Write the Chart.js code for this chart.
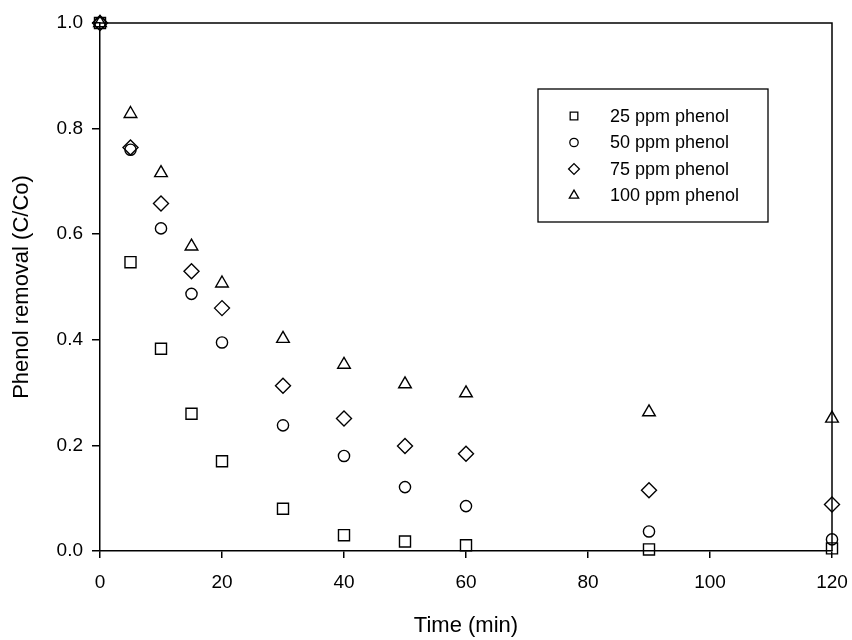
<!DOCTYPE html>
<html>
<head>
<meta charset="utf-8">
<title>Phenol removal</title>
<script src="https://cdn.jsdelivr.net/npm/chart.js@4/dist/chart.umd.min.js"></script>
<style>
    html, body { margin: 0; padding: 0; background: #fff; }
    #wrap { width: 852px; height: 640px; }
</style>
</head>
<body>
<div id="wrap"><canvas id="phenolChart" width="852" height="640"></canvas></div>
<script>
// Sampling times (min)
const times = [0, 5, 10, 15, 20, 30, 40, 50, 60, 90, 120];

// C/Co for each initial phenol concentration
const ppm25  = [1.0, 0.547, 0.383, 0.260, 0.170, 0.080, 0.030, 0.018, 0.011, 0.003, 0.005];
const ppm50  = [1.0, 0.760, 0.611, 0.487, 0.395, 0.238, 0.180, 0.121, 0.085, 0.037, 0.022];
const ppm75  = [1.0, 0.764, 0.658, 0.530, 0.460, 0.313, 0.251, 0.199, 0.184, 0.115, 0.088];
const ppm100 = [1.0, 0.828, 0.716, 0.577, 0.507, 0.402, 0.353, 0.316, 0.299, 0.263, 0.251];

const seriesLabels = ['25 ppm phenol', '50 ppm phenol', '75 ppm phenol', '100 ppm phenol'];
const xTicks = [0, 20, 40, 60, 80, 100, 120];
const yTicks = [0.0, 0.2, 0.4, 0.6, 0.8, 1.0];

const FONT = "'Liberation Sans', Arial, Helvetica, sans-serif";

function toPoints(values) {
    return values.map(function(v, i) { return { x: times[i], y: v }; });
}

function makeSet(label, values, style, radius) {
    return {
        label: label,
        data: toPoints(values),
        showLine: false,
        pointStyle: style,
        pointRadius: radius,
        pointHoverRadius: radius,
        pointBorderColor: '#000',
        pointBackgroundColor: 'rgba(0,0,0,0)',
        pointBorderWidth: 1.4,
        clip: false
    };
}

const datasets = [
    makeSet(seriesLabels[0], ppm25, 'rect', 7.8),
    makeSet(seriesLabels[1], ppm50, 'circle', 5.6),
    makeSet(seriesLabels[2], ppm75, 'rectRot', 7.5),
    makeSet(seriesLabels[3], ppm100, 'triangle', 7.3)
];

// top and right edges of the plot frame
const frame = {
    id: 'frame',
    afterDatasetsDraw: function(chart) {
        const a = chart.chartArea;
        const ctx = chart.ctx;
        ctx.save();
        ctx.strokeStyle = '#000';
        ctx.lineWidth = 1.5;
        ctx.beginPath();
        ctx.moveTo(a.left, a.top);
        ctx.lineTo(a.right, a.top);
        ctx.lineTo(a.right, a.bottom);
        ctx.stroke();
        ctx.restore();
    }
};

// boxed legend sitting inside the plot
const boxLegend = {
    id: 'boxLegend',
    afterDraw: function(chart) {
        const ctx = chart.ctx;
        const box = { x: 538, y: 89, w: 230, h: 133 };
        ctx.save();
        ctx.strokeStyle = '#000';
        ctx.lineWidth = 1.3;
        ctx.strokeRect(box.x, box.y, box.w, box.h);
        ctx.font = '18px ' + FONT;
        ctx.textBaseline = 'middle';
        ctx.textAlign = 'left';
        chart.data.datasets.forEach(function(ds, i) {
            const y = box.y + 27 + i * 26.5;
            ctx.fillStyle = 'rgba(0,0,0,0)';
            ctx.lineWidth = 1.3;
            Chart.helpers.drawPoint(ctx, {
                pointStyle: ds.pointStyle,
                radius: ds.pointStyle === 'circle' ? 4.2 : 5.4,
                borderWidth: 1.3,
                rotation: 0
            }, 574, y);
            ctx.fillStyle = '#000';
            ctx.fillText(ds.label, 610, y + 1);
        });
        ctx.restore();
    }
};

new Chart(document.getElementById('phenolChart'), {
    type: 'scatter',
    data: { datasets: datasets },
    options: {
        responsive: false,
        animation: false,
        events: [],
        layout: { padding: { top: 23, right: 20, left: 0, bottom: 0 } },
        plugins: {
            legend: { display: false },
            tooltip: { enabled: false }
        },
        scales: {
            x: {
                type: 'linear',
                min: 0,
                max: 120,
                afterFit: function(scale) {
                    scale.height = 89;
                    scale.paddingLeft = 0;
                    scale.paddingRight = 0;
                },
                afterBuildTicks: function(scale) {
                    scale.ticks = xTicks.map(function(v) { return { value: v }; });
                },
                border: { display: true, color: '#000', width: 1.5 },
                grid: { display: true, drawOnChartArea: false, drawTicks: true, tickLength: 7, color: '#000', lineWidth: 1.5 },
                ticks: {
                    color: '#000',
                    padding: 13,
                    maxRotation: 0,
                    font: { family: FONT, size: 19 }
                },
                title: {
                    display: true,
                    text: 'Time (min)',
                    color: '#000',
                    padding: { top: 0, bottom: 1 },
                    font: { family: FONT, size: 22 }
                }
            },
            y: {
                type: 'linear',
                min: 0,
                max: 1,
                afterFit: function(scale) {
                    scale.width = 100;
                    scale.paddingTop = 0;
                    scale.paddingBottom = 0;
                },
                afterBuildTicks: function(scale) {
                    scale.ticks = yTicks.map(function(v) { return { value: v }; });
                },
                border: { display: true, color: '#000', width: 1.5 },
                grid: { display: true, drawOnChartArea: false, drawTicks: true, tickLength: 8, color: '#000', lineWidth: 1.5 },
                ticks: {
                    color: '#000',
                    padding: 9,
                    font: { family: FONT, size: 19 },
                    callback: function(v) { return Number(v).toFixed(1); }
                },
                title: {
                    display: true,
                    text: 'Phenol removal (C/Co)',
                    color: '#000',
                    padding: { top: 9, bottom: 0 },
                    font: { family: FONT, size: 22 }
                }
            }
        }
    },
    plugins: [frame, boxLegend]
});
</script>
</body>
</html>
